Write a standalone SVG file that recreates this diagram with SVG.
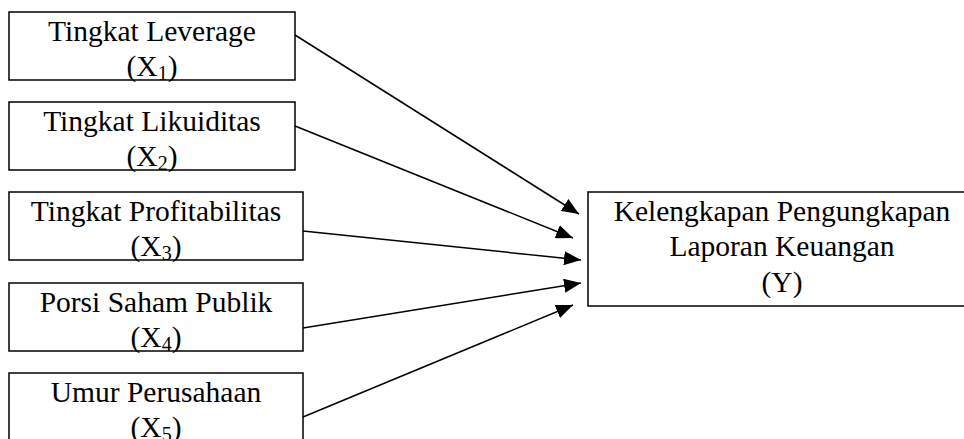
<svg xmlns="http://www.w3.org/2000/svg" width="964" height="439" viewBox="0 0 964 439">
<style>
.box{fill:#fff;stroke:#000;stroke-width:1.5}
text{font-family:"Liberation Serif","Times New Roman",serif;font-size:29.5px;fill:#000;text-anchor:middle}
.sub{font-size:20px}
.edge{stroke:#000;stroke-width:1.5;fill:none;marker-end:url(#ah)}
</style>
<defs>
<marker id="ah" markerUnits="userSpaceOnUse" markerWidth="17" markerHeight="14" refX="17" refY="7" orient="auto">
<path d="M0,0 L17,7 L0,14 Z" fill="#000"/>
</marker>
</defs>
<g id="x1">
<rect class="box" x="9" y="12" width="286" height="68"/>
<text x="152" y="41">Tingkat Leverage</text>
<text x="152" y="76">(X<tspan class="sub" dy="4">1</tspan><tspan dy="-4">)</tspan></text>
</g>
<g id="x2">
<rect class="box" x="9" y="102" width="286" height="68"/>
<text x="152" y="131">Tingkat Likuiditas</text>
<text x="152" y="166">(X<tspan class="sub" dy="4">2</tspan><tspan dy="-4">)</tspan></text>
</g>
<g id="x3">
<rect class="box" x="9" y="192" width="294" height="68"/>
<text x="156" y="221">Tingkat Profitabilitas</text>
<text x="156" y="256">(X<tspan class="sub" dy="4">3</tspan><tspan dy="-4">)</tspan></text>
</g>
<g id="x4">
<rect class="box" x="9" y="283" width="294" height="68"/>
<text x="156" y="312">Porsi Saham Publik</text>
<text x="156" y="347">(X<tspan class="sub" dy="4">4</tspan><tspan dy="-4">)</tspan></text>
</g>
<g id="x5">
<rect class="box" x="9" y="373" width="294" height="80"/>
<text x="156" y="402">Umur Perusahaan</text>
<text x="156" y="437">(X<tspan class="sub" dy="4">5</tspan><tspan dy="-4">)</tspan></text>
</g>
<g id="y">
<rect class="box" x="588" y="192" width="388" height="114"/>
<text x="782" y="221">Kelengkapan Pengungkapan</text>
<text x="782" y="256">Laporan Keuangan</text>
<text x="782" y="292">(Y)</text>
</g>
<g id="connectors">
<line class="edge" x1="295" y1="35" x2="579" y2="214"/>
<line class="edge" x1="295" y1="126" x2="573" y2="238"/>
<line class="edge" x1="303" y1="231" x2="581" y2="260"/>
<line class="edge" x1="303" y1="328" x2="581" y2="283"/>
<line class="edge" x1="303" y1="417" x2="573" y2="305"/>
</g>
</svg>
